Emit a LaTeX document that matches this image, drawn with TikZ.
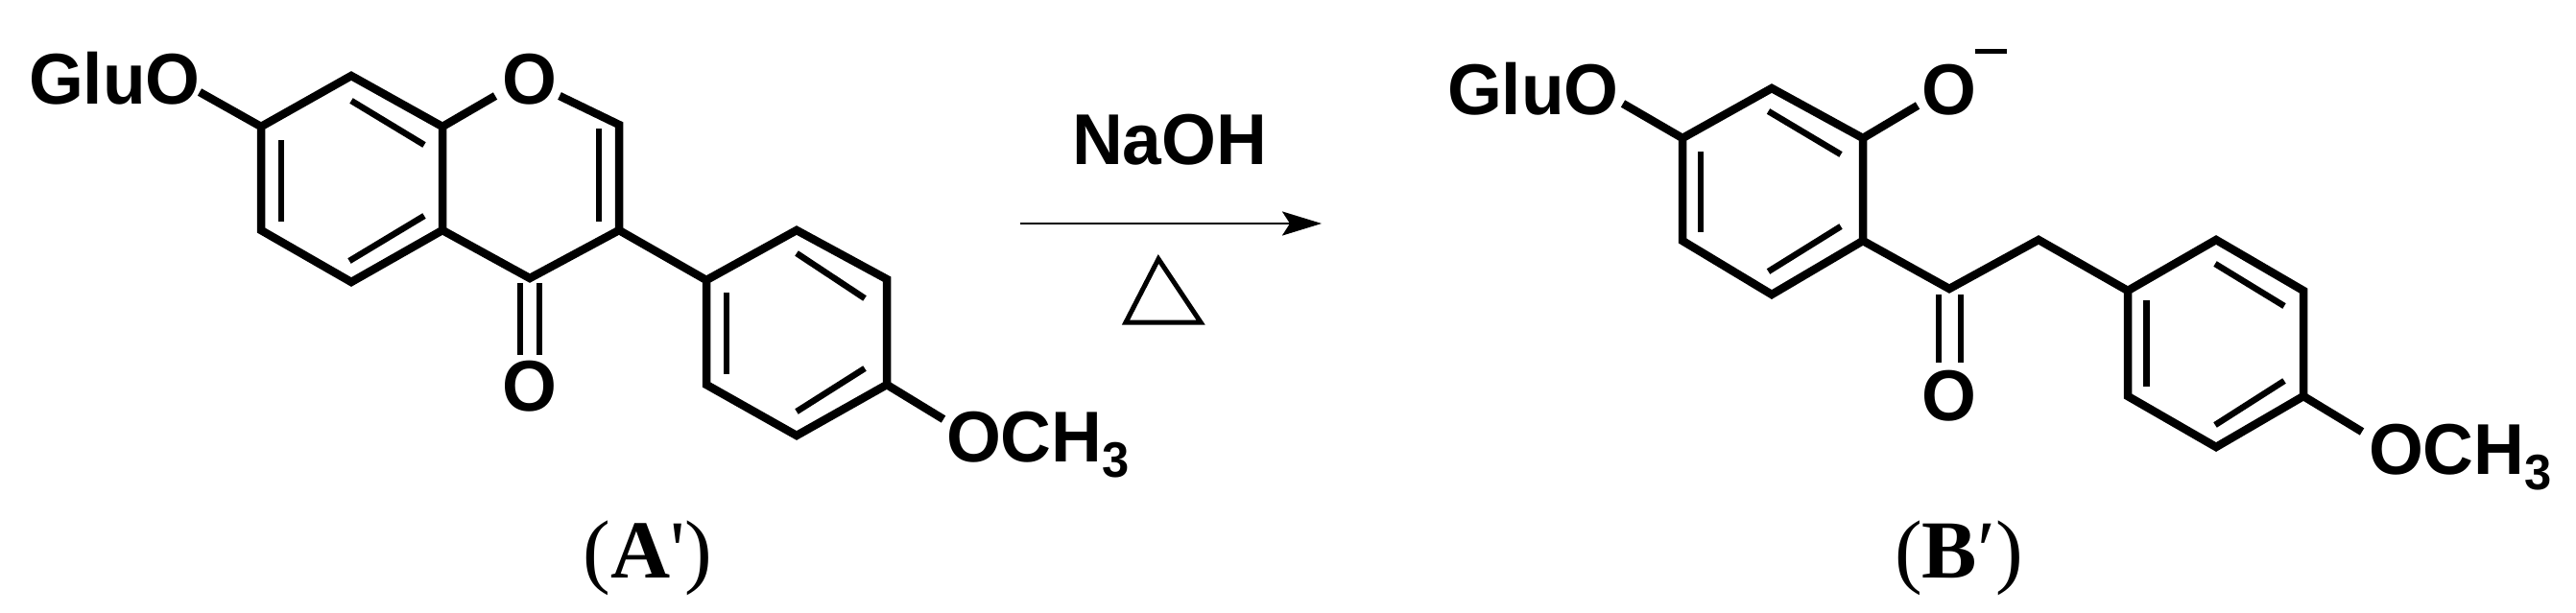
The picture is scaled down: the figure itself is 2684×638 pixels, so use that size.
\documentclass[tikz,border=0pt]{standalone}
\usepackage{fontspec}
\usetikzlibrary{arrows.meta}
\newfontfamily\capfont{Liberation Serif}
\newfontfamily\chemfont[FakeStretch=0.975]{Liberation Sans Bold}
\tikzset{
  x=1pt,y=-1pt,
  bondline/.style={line width=8.5pt,line join=miter,miter limit=10,black},
  innerline/.style={line width=6.5pt,black},
  atomtext/.style={inner sep=0pt,outer sep=0pt,anchor=base west,font=\chemfont\fontsize{75}{75}\selectfont},
  captiontext/.style={inner sep=0pt,outer sep=0pt,anchor=base,font=\capfont\fontsize{86}{86}\selectfont},
}
\begin{document}
\begin{tikzpicture}
\useasboundingbox (0,0) rectangle (2684,638);
% ---- left molecule
\node[atomtext] (aglu) at (30,108) {GluO};
\node[atomtext] (ao1) at (523,108) {O};
\node[atomtext] (ao2) at (523,428) {O};
\node[atomtext] (aome) at (986,481) {OCH{\fontsize{52}{52}\selectfont\raisebox{-16pt}{3}}};
\foreach \n/\p in {a7/{272,132},a8/{366,79},a8a/{461,132},a4a/{461,240},a5/{366,294},a6/{272,240},
  a2/{645,130},a3/{645,240},a4/{552,290},
  b1/{736,292},b2/{830,240},b3/{924,291},b4/{924,401},b5/{830,454},b6/{736,401},
  aglue/{208,96},ao1l/{516,100},ao1r/{583,100},aome1/{983,437},
  i1/{293,146},i2/{293,231},i3/{366,105},i4/{442,151},i5/{364,272},i6/{442,225},
  i7/{624,134},i8/{624,231},i9/{757,305},i10/{757,390},i11/{830,264},i12/{901,311},i13/{901,384},i14/{830,429},
  co1/{542,295},co2/{542,370},co3/{562,295},co4/{562,370}}
  {\expandafter\coordinate\expandafter(\n) at (\p);}
\draw[bondline] (a7)--(a8)--(a8a)--(a4a)--(a5)--(a6)--cycle;
\draw[bondline] (a8a)--(ao1l);
\draw[bondline] (ao1r)--(a2)--(a3)--(a4)--(a4a);
\draw[bondline] (aglue)--(a7);
\draw[bondline] (a3)--(b1);
\draw[bondline] (b1)--(b2)--(b3)--(b4)--(b5)--(b6)--cycle;
\draw[bondline] (b4)--(aome1);
\draw[innerline] (i1)--(i2);
\draw[innerline] (i3)--(i4);
\draw[innerline] (i5)--(i6);
\draw[innerline] (i7)--(i8);
\draw[innerline] (i9)--(i10);
\draw[innerline] (i11)--(i12);
\draw[innerline] (i13)--(i14);
\draw[innerline] (co1)--(co2);
\draw[innerline] (co3)--(co4);
\node[captiontext] (acap) at (675,602) {(\textbf{A}')};
% ---- arrow
\node[atomtext] (naoh) at (1117,171) {NaOH};
\coordinate (ar1) at (1063,233);
\coordinate (ar2) at (1377,233);
\draw[line width=2.5pt,-{Stealth[length=41pt,width=25pt,inset=8pt]}] (ar1)--(ar2);
\coordinate (t1) at (1207,270);
\coordinate (t2) at (1251,336);
\coordinate (t3) at (1173,336);
\draw[line width=5pt,line join=miter,miter limit=10] (t1)--(t2)--(t3)--cycle;
% ---- right molecule
\node[atomtext] (bglu) at (1508,119) {GluO};
\node[atomtext] (bo1) at (2002,119) {O};
\node[atomtext] (bo2) at (2002,438) {O};
\node[atomtext] (bome) at (2468,494) {OCH{\fontsize{52}{52}\selectfont\raisebox{-16pt}{3}}};
\foreach \n/\p in {c1/{1753,144},c2/{1846,92},c3/{1941,144},c4/{1941,251},c5/{1846,307},c6/{1753,251},
  cc/{2031,301},ch/{2124,250},
  d1/{2217,303},d2/{2309,250},d3/{2400,303},d4/{2400,413},d5/{2309,466},d6/{2217,413},
  bgluE/{1691,108},bo1e/{1998,110},bome1/{2461,450},
  m1/{2058,53},m2/{2091,53},
  j1/{1772,158},j2/{1772,242},j3/{1842.5,116},j4/{1918,161},j5/{1842.5,283},j6/{1918,236},
  j7/{2236.5,313},j8/{2236.5,403},j9/{2308,275},j10/{2380,319},j11/{2380,397},j12/{2308,443},
  do1/{2020,307},do2/{2020,378},do3/{2043,307},do4/{2043,378}}
  {\expandafter\coordinate\expandafter(\n) at (\p);}
\draw[bondline] (c1)--(c2)--(c3)--(c4)--(c5)--(c6)--cycle;
\draw[bondline] (bgluE)--(c1);
\draw[bondline] (c3)--(bo1e);
\draw[bondline] (c4)--(cc)--(ch)--(d1);
\draw[bondline] (d1)--(d2)--(d3)--(d4)--(d5)--(d6)--cycle;
\draw[bondline] (d4)--(bome1);
\draw[line width=5pt] (m1)--(m2);
\draw[innerline] (j1)--(j2);
\draw[innerline] (j3)--(j4);
\draw[innerline] (j5)--(j6);
\draw[innerline] (j7)--(j8);
\draw[innerline] (j9)--(j10);
\draw[innerline] (j11)--(j12);
\draw[innerline] (do1)--(do2);
\draw[innerline] (do3)--(do4);
\node[captiontext] (bcap) at (2041,602) {(\textbf{B}′)};
\end{tikzpicture}
\end{document}
